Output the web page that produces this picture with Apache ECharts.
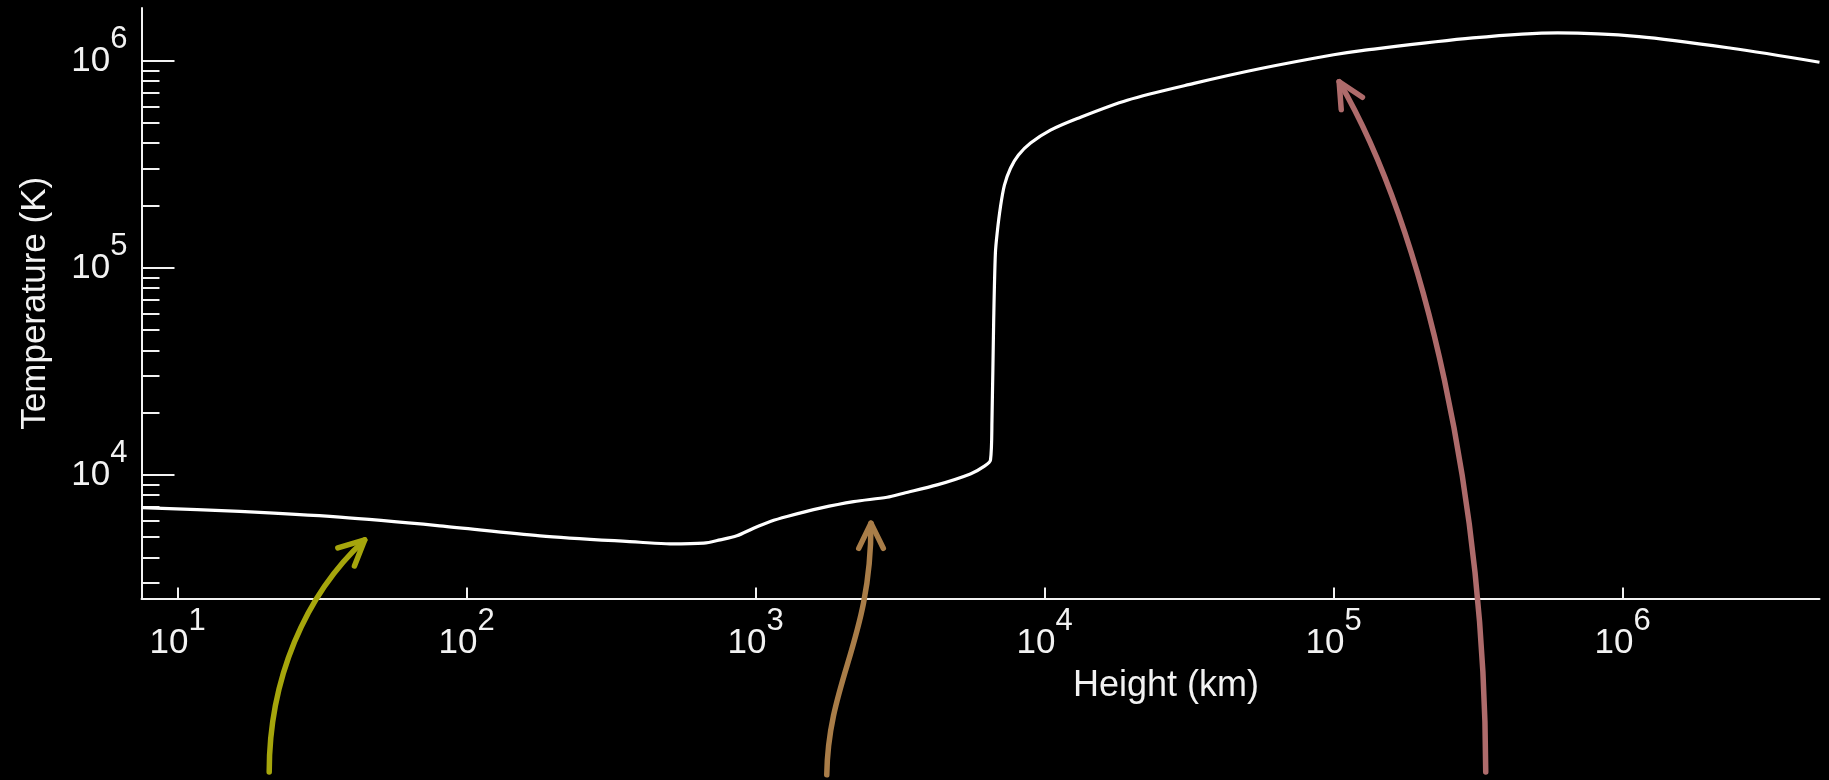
<!DOCTYPE html>
<html>
<head>
<meta charset="utf-8">
<script src="https://cdn.jsdelivr.net/npm/echarts@6/dist/echarts.min.js"></script>
<style>
  html, body { margin: 0; padding: 0; background: #000; }
  #chart { width: 1829px; height: 780px; }
</style>
</head>
<body>
<div id="chart"></div>
<script>
// Height above the solar surface (km) and the temperature profile (K)
const heightKm = [
  7.5, 16.4, 36.4, 80.7, 179.5, 398, 506, 661, 754, 861, 984, 1124, 1284,
  1674, 2184, 2851, 3253, 4246, 5535, 6152, 6497, 6575, 6665, 6755, 6850,
  7035, 7260, 7620, 8120, 8940, 10480, 12970, 19320, 32870, 55950, 100000, 125000,
  303000, 596000, 1140000, 2380000, 4800000
];
const temperatureK = [
  6950, 6660, 6250, 5680, 5080, 4730, 4645, 4680, 4855, 5080, 5530, 5960, 6300,
  6910, 7430, 7800, 8160, 8950, 10110, 10970, 11810, 18450, 56000, 117500, 146900,
  197300, 251000, 303000, 351000, 401000, 463000, 527000, 645700, 778000, 918000, 1070000, 1120000,
  1290000, 1365000, 1310000, 1150000, 985000
];

// Axis ticks
const xMajorTicks = [10, 100, 1000, 10000, 100000, 1000000];
const yMajorTicks = [10000, 100000, 1000000];
const yMinorTicks = [
  3000, 4000, 5000, 6000, 7000, 8000, 9000,
  20000, 30000, 40000, 50000, 60000, 70000, 80000, 90000,
  200000, 300000, 400000, 500000, 600000, 700000, 800000, 900000
];

const FONT = '"Liberation Sans", Arial, Helvetica, sans-serif';
const INK = '#f2f2f2';

// "10" with the exponent raised as a superscript
function powerLabel(v) {
  return '{b|10}{e|' + Math.round(Math.log10(v)) + '}';
}
const RICH = {
  b: { fontSize: 35, color: INK, fontFamily: FONT },
  e: { fontSize: 31, color: INK, fontFamily: FONT, padding: [0, 0, 43, 0] }
};

const chart = echarts.init(document.getElementById('chart'), null, { renderer: 'canvas' });

chart.setOption({
  backgroundColor: '#000',
  animation: false,
  grid: { left: 141.5, right: 9.5, top: 8, bottom: 181.5, containLabel: false, outerBoundsMode: 'none' },
  xAxis: {
    type: 'log', logBase: 10, min: 7.5, max: 4800000,
    name: 'Height (km)', nameLocation: 'middle', nameGap: 70, nameMoveOverlap: false,
    nameTextStyle: { color: INK, fontSize: 36, fontFamily: FONT, padding: [0, 0, 0, 371] },
    axisLine: { show: true, onZero: false, lineStyle: { color: INK, width: 2 } },
    axisTick: { show: true, inside: true, length: 11, customValues: xMajorTicks, lineStyle: { color: INK, width: 2 } },
    axisLabel: { show: true, margin: 7.5, customValues: xMajorTicks, formatter: powerLabel, rich: RICH },
    splitLine: { show: false },
    minorTick: { show: false }
  },
  yAxis: [
    {
      type: 'log', logBase: 10, min: 2530, max: 1800000, position: 'left',
      name: 'Temperature (K)', nameLocation: 'middle', nameRotate: 90, nameGap: 89, nameMoveOverlap: false,
      nameTextStyle: { color: INK, fontSize: 35, fontFamily: FONT },
      axisLine: { show: true, onZero: false, lineStyle: { color: INK, width: 2 } },
      axisTick: { show: true, inside: true, length: 33, customValues: yMajorTicks, lineStyle: { color: INK, width: 2 } },
      axisLabel: { show: true, margin: 14, customValues: yMajorTicks, formatter: powerLabel, rich: RICH },
      splitLine: { show: false },
      minorTick: { show: false }
    },
    {
      // shorter ticks at 2..9 times each decade
      type: 'log', logBase: 10, min: 2530, max: 1800000, position: 'left',
      axisLine: { show: false },
      axisTick: { show: true, inside: true, length: 18, customValues: yMinorTicks, lineStyle: { color: INK, width: 2 } },
      axisLabel: { show: false },
      splitLine: { show: false }
    }
  ],
  series: [{
    type: 'line',
    xAxisIndex: 0,
    yAxisIndex: 0,
    data: heightKm.map((h, i) => [h, temperatureK[i]]),
    showSymbol: false,
    smooth: 0.3,
    lineStyle: { color: '#ffffff', width: 3.2 },
    z: 5
  }]
});

// Curved pointers from below the axis to three regions of the profile
const pointers = [
  { at: [44.4, 4853], color: '#a6a60c', tail: [-95.5, 232], c1: [-95.5, 140], c2: [-60, 55] },
  { at: [2507, 5848], color: '#a97d48', tail: [-44.2, 251.7], c1: [-42.7, 156.7], c2: [0.3, 116.7] },
  { at: [104500, 793000], color: '#ae6b6b', tail: [146.6, 690.3], c1: [145.6, 418.3], c2: [86.6, 148.3] }
];

function drawPointers() {
  const els = [];
  const HEAD = 28, SPREAD = 26 * Math.PI / 180, W = 5.5;
  pointers.forEach(p => {
    const tip = chart.convertToPixel({ gridIndex: 0 }, p.at);
    const tx = tip[0], ty = tip[1];
    const x0 = tx + p.tail[0], y0 = ty + p.tail[1];
    const c1x = tx + p.c1[0], c1y = ty + p.c1[1];
    const c2x = tx + p.c2[0], c2y = ty + p.c2[1];
    const style = { stroke: p.color, lineWidth: W, lineCap: 'round', lineJoin: 'round', fill: null };
    els.push({
      type: 'bezierCurve', silent: true, z: 20,
      shape: { x1: x0, y1: y0, cpx1: c1x, cpy1: c1y, cpx2: c2x, cpy2: c2y, x2: tx, y2: ty },
      style: style
    });
    let bx = c2x - tx, by = c2y - ty;
    const len = Math.hypot(bx, by);
    bx /= len; by /= len;
    const wing = a => [
      tx + HEAD * (bx * Math.cos(a) - by * Math.sin(a)),
      ty + HEAD * (bx * Math.sin(a) + by * Math.cos(a))
    ];
    els.push({
      type: 'polyline', silent: true, z: 20,
      shape: { points: [wing(SPREAD), [tx, ty], wing(-SPREAD)] },
      style: style
    });
  });
  chart.setOption({ graphic: { elements: els } });
}
drawPointers();
</script>
</body>
</html>
